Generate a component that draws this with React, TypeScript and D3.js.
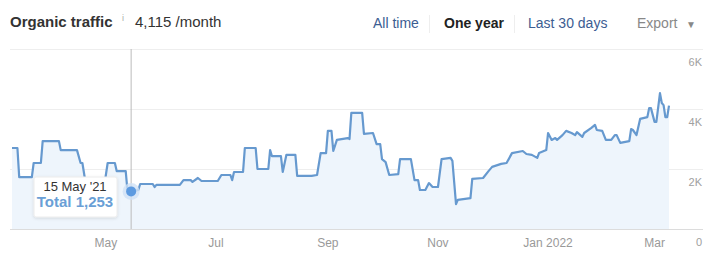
import React from "react";
import * as d3 from "d3";

const dates: string[] = [
  "2021-03-10","2021-03-13","2021-03-14","2021-03-21","2021-03-22","2021-03-26","2021-03-27","2021-04-05","2021-04-06","2021-04-15",
  "2021-04-17","2021-04-18","2021-04-20","2021-04-30","2021-05-02","2021-05-06","2021-05-07","2021-05-12","2021-05-13","2021-05-15",
  "2021-05-19","2021-05-20","2021-05-27","2021-05-28","2021-05-29","2021-06-11","2021-06-13","2021-06-17","2021-06-18","2021-06-21",
  "2021-06-23","2021-07-02","2021-07-04","2021-07-09","2021-07-10","2021-07-11","2021-07-16","2021-07-17","2021-07-23","2021-07-24",
  "2021-07-30","2021-07-31","2021-08-01","2021-08-06","2021-08-07","2021-08-09","2021-08-14","2021-08-15","2021-08-23","2021-08-26",
  "2021-08-28","2021-08-31","2021-09-01","2021-09-03","2021-09-04","2021-09-06","2021-09-12","2021-09-13","2021-09-14","2021-09-20",
  "2021-09-21","2021-09-26","2021-09-28","2021-09-30","2021-10-01","2021-10-03","2021-10-05","2021-10-10","2021-10-11","2021-10-17",
  "2021-10-19","2021-10-21","2021-10-22","2021-10-25","2021-10-27","2021-10-29","2021-11-01","2021-11-03","2021-11-08","2021-11-09",
  "2021-11-11","2021-11-12","2021-11-19","2021-11-20","2021-11-26","2021-11-29","2021-12-01","2021-12-06","2021-12-09","2021-12-12",
  "2021-12-18","2021-12-20","2021-12-23","2021-12-26","2021-12-27","2021-12-31","2022-01-01","2022-01-03","2022-01-05","2022-01-06",
  "2022-01-09","2022-01-11","2022-01-14","2022-01-16","2022-01-17","2022-01-20","2022-01-21","2022-01-25","2022-01-27","2022-01-28",
  "2022-01-31","2022-02-02","2022-02-05","2022-02-07","2022-02-08","2022-02-10","2022-02-15","2022-02-16","2022-02-17","2022-02-19",
  "2022-02-21","2022-02-25","2022-02-26","2022-02-27","2022-03-01","2022-03-02","2022-03-04","2022-03-05","2022-03-06","2022-03-07",
  "2022-03-08","2022-03-09"
];
const traffic: number[] = [
  2700,2700,1730,1730,2200,2200,2930,2930,2630,2630,
  2200,2200,1450,1400,2200,2200,1930,1930,1260,1253,
  1300,1500,1500,1400,1470,1470,1630,1630,1570,1700,
  1600,1600,1800,1800,1630,1900,1900,2700,2700,2000,
  2000,2630,2430,2430,1900,2470,2470,1770,1770,1800,
  2530,2530,3270,3270,2600,2970,3030,3000,3870,3870,
  3170,3200,2830,2830,2330,2230,1800,1830,2330,2330,
  1630,1630,1300,1300,1530,1400,1400,2330,2370,2270,
  830,970,1030,1670,1700,1930,2070,2170,2200,2530,
  2600,2500,2470,2370,2530,2630,3200,2970,3030,2970,
  3130,3270,3200,3130,3230,3070,3200,3370,3470,3300,
  3270,2970,2970,3130,3130,2870,2930,3330,3300,3130,
  3670,3730,4030,4030,3570,3570,4530,4200,4130,3730,
  3730,4115
];

const yTicks: number[] = [0, 2000, 4000, 6000];
const yTickLabels: string[] = ["0", "2K", "4K", "6K"];
const monthTicks: string[] = ["2021-05-01", "2021-07-01", "2021-09-01", "2021-11-01", "2022-01-01", "2022-03-01"];
const monthLabels: string[] = ["May", "Jul", "Sep", "Nov", "Jan 2022", "Mar"];
const periodOptions: string[] = ["All time", "One year", "Last 30 days"];
const hoverDate = "2021-05-15";
const hoverLabel = "15 May '21";
const hoverValue = 1253;

const parse = d3.timeParse("%Y-%m-%d");

export default function App() {
  const W = 720, H = 268;
  const font = "'Liberation Sans', Arial, Helvetica, sans-serif";
  const data = dates.map((d, i) => ({ date: parse(d) as Date, value: traffic[i] }));
  const x = d3.scaleTime()
    .domain([parse("2021-03-10") as Date, parse("2022-03-09") as Date])
    .range([12, 669]);
  const y = d3.scaleLinear().domain([0, 6000]).range([229, 49]);
  const line = d3.line<{ date: Date; value: number }>().x(d => x(d.date)).y(d => y(d.value));
  const area = d3.area<{ date: Date; value: number }>().x(d => x(d.date)).y0(y(0)).y1(d => y(d.value));
  const hx = x(parse(hoverDate) as Date);
  const hy = y(hoverValue);
  const gridLeft = 10, gridRight = 703;
  const linkColor = "#3c5d92";

  return (
    <svg width={W} height={H} style={{ position: "absolute", left: 0, top: 0, background: "#fff" }} fontFamily={font}>
      <defs>
        <filter id="tipShadow" x="-20%" y="-30%" width="140%" height="160%">
          <feDropShadow dx={0} dy={1} stdDeviation={1.5} floodColor="#000" floodOpacity={0.12} />
        </filter>
      </defs>
      <rect x={0} y={0} width={W} height={H} fill="#fff" />
      {/* header */}
      <text x={10} y={27} fontSize={15} fontWeight="bold" fill="#333">Organic traffic</text>
      <text x={122} y={21} fontSize={9} fill="#aaa">i</text>
      <text x={135} y={27} fontSize={15} fill="#333">4,115 /month</text>
      <text x={373} y={28} fontSize={14} fill={linkColor}>{periodOptions[0]}</text>
      <line x1={429.5} x2={429.5} y1={15} y2={33} stroke="#eee" />
      <text x={444} y={28} fontSize={14} fontWeight="bold" fill="#222">{periodOptions[1]}</text>
      <line x1={514.5} x2={514.5} y1={15} y2={33} stroke="#eee" />
      <text x={528} y={28} fontSize={14} fill={linkColor}>{periodOptions[2]}</text>
      <text x={637} y={28} fontSize={14} fill="#888">Export</text>
      <text x={686} y={28} fontSize={10} fill="#888">▼</text>

      {/* grid */}
      {yTicks.map((t, i) => (
        <g key={t}>
          <line x1={gridLeft} x2={gridRight} y1={y(t) + 0.5} y2={y(t) + 0.5} stroke={t === 0 ? "#dcdcdc" : "#eeeeee"} />
          <text x={702} y={y(t) + 17} fontSize={11} fill="#a0a0a0" textAnchor="end">{yTickLabels[i]}</text>
        </g>
      ))}
      {monthTicks.map((m, i) => {
        const mx = x(parse(m) as Date);
        return (
          <g key={m}>
            <line x1={mx} x2={mx} y1={y(0) - 4} y2={y(0)} stroke="#dcdcdc" />
            <text x={mx} y={247} fontSize={12} fill="#999" textAnchor="middle">{monthLabels[i]}</text>
          </g>
        );
      })}

      {/* series */}
      <path d={area(data) || ""} fill="#eef5fc" />
      <path d={line(data) || ""} fill="none" stroke="#6699cf" strokeWidth={2.2} strokeLinejoin="round" />

      {/* hover */}
      <line x1={hx} x2={hx} y1={y(6000)} y2={y(0)} stroke="#bbb" strokeWidth={1} />
      <g>
        <rect x={34} y={177} width={83} height={40} fill="#fff" stroke="#ececec" rx={2} filter="url(#tipShadow)" />
        <text x={75} y={191} fontSize={13} fill="#333" textAnchor="middle">{hoverLabel}</text>
        <text x={75} y={207} fontSize={15} fontWeight="bold" fill="#6a9fd6" textAnchor="middle">Total {d3.format(",")(hoverValue)}</text>
      </g>
      <circle cx={hx} cy={hy} r={8.5} fill="#cfe1f5" opacity={0.8} />
      <circle cx={hx} cy={hy} r={5} fill="#5c9ae0" />
    </svg>
  );
}
